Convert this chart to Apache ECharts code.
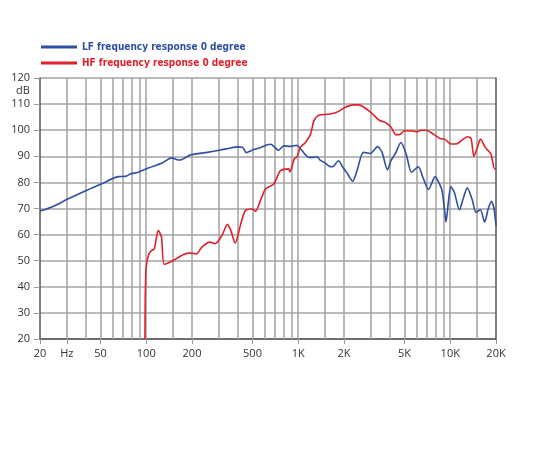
<!DOCTYPE html>
<html><head><meta charset="utf-8">
<script src="https://cdn.jsdelivr.net/npm/echarts@6/dist/echarts.min.js"></script>
<style>html,body{margin:0;padding:0;background:#fff}#c{width:550px;height:450px}</style>
</head><body><div id="c"></div>
<script>
const lfFreq = [20,24.4,30.7,40.3,50.6,65.4,73.3,78.4,88.6,103,126,147,158,167,195,251,307,358,405,430,455,485,508,566,626,658,700,740,803,889,982,1033,1100,1166,1250,1330,1400,1500,1600,1680,1840,1955,2100,2280,2450,2680,2980,3330,3560,3860,4070,4350,4740,5150,5560,6170,6600,7200,7960,8400,8830,9150,9380,9700,10100,10630,11500,12200,12950,14000,14740,15800,16820,17800,18650,19400,20000];
const lfDb = [69,70.8,73.7,76.9,79.4,82.2,82.3,83.2,83.9,85.5,87.3,89.4,88.8,88.6,90.5,91.5,92.4,93.2,93.6,93.5,91.4,92,92.6,93.4,94.4,94.6,93.5,92.3,94,93.8,94.2,93,91,89.6,89.6,89.8,88.4,87.5,86.2,86,88.3,86,83.5,80.4,85,91.5,91.1,93.7,91.5,84.8,88.3,91,95.3,90.5,83.9,86,82,77.3,82.2,80,76.9,70,64.8,72,78.4,76.2,69.5,74,77.9,73.1,68.6,69.5,64.8,70,72.8,70,63.5];
const hfFreq = [98,98.5,99.5,101.5,105,109,113,120,126,131,144,158,176,195,215,232,263,284,315,342,360,385,416,449,498,523,566,609,690,764,866,880,942,985,1033,1116,1205,1268,1370,1560,1730,1870,2020,2290,2500,2690,3060,3390,3760,4070,4390,4620,5000,5560,5980,6450,6980,7750,8580,9280,10100,11100,11950,12950,13700,14300,15200,15800,17000,17800,18500,19600,20000];
const hfDb = [20,35,46,50.2,53,54,54.5,61.6,59,48.6,49.5,50.8,52.4,52.9,52.6,55.2,57.1,56.5,59.7,63.9,61.6,56.8,63.5,69.2,69.8,69,73.3,77.5,79.4,84.5,85.2,84,89,90,93.4,95.3,98.5,103.6,105.8,106.1,106.6,107.4,108.7,109.7,109.7,108.9,106.4,103.9,102.9,101.2,98.3,98.3,99.8,99.7,99.4,100,100,98.5,96.8,96.4,94.7,94.8,96.2,97.5,96.8,90,94,96.6,93.4,92.1,91,85.2,85.2];
const gridFreqs = [30,40,50,60,70,80,90,100,150,200,300,400,500,600,700,800,900,1000,1500,2000,3000,4000,5000,6000,7000,8000,9000,10000,15000];
const tickFreqs = [20,30,50,100,200,500,1000,2000,5000,10000,20000];
const tickLabels = ['20','Hz','50','100','200','500','1K','2K','5K','10K','20K'];
const seriesNames = ['LF frequency response 0 degree','HF frequency response 0 degree'];
const seriesColors = ['#2f4fa0', '#e0202a'];

const L = Math.log10;
const toPts = (f, d) => f.map((v, i) => [L(v), d[i]]);
const fmtX = v => { for (let i = 0; i < tickFreqs.length; i++) if (Math.abs(L(tickFreqs[i]) - v) < 1e-6) return tickLabels[i]; return ''; };
const FONT = "'Open Sans', 'DejaVu Sans', sans-serif";
const legendFont = {fontFamily: "'DejaVu Sans Condensed', 'Roboto', sans-serif", fontWeight: 'bold', fontSize: 10};
const mkLegend = (i, top) => ({
  orient: 'vertical', left: 41, top: top, itemWidth: 36, itemHeight: 3, icon: 'rect', padding: 0,
  data: [{name: seriesNames[i], textStyle: Object.assign({color: seriesColors[i]}, legendFont)}]
});
const chart = echarts.init(document.getElementById('c'), null, {renderer: 'canvas'});
chart.setOption({
  animation: false,
  grid: {left: 40, right: 54, top: 78, bottom: 111},
  legend: [mkLegend(0, 42), mkLegend(1, 58)],
  xAxis: [
    {type: 'value', min: L(20), max: L(20000), position: 'bottom',
     axisLine: {show: true, lineStyle: {color: '#555', width: 1.5}},
     axisTick: {show: true, customValues: tickFreqs.map(L), length: 5, lineStyle: {color: '#999', width: 1}},
     axisLabel: {customValues: tickFreqs.map(L), formatter: fmtX, color: '#333', fontSize: 11, fontFamily: FONT, margin: 9},
     splitLine: {show: false}},
    {type: 'value', min: L(20), max: L(20000), position: 'bottom', gridIndex: 0,
     axisLine: {show: false},
     axisTick: {show: true, inside: true, customValues: gridFreqs.map(L), length: 261, lineStyle: {color: '#a3a3a3', width: 1.5}},
     axisLabel: {show: false}, splitLine: {show: false}}
  ],
  yAxis: [
    {type: 'value', min: 20, max: 120, interval: 10, position: 'left',
     axisLine: {show: true, lineStyle: {color: '#555', width: 1.5}},
     axisTick: {show: true, length: 6, lineStyle: {color: '#999'}},
     axisLabel: {color: '#333', fontSize: 11, fontFamily: FONT, margin: 10},
     splitLine: {show: true, lineStyle: {color: '#a3a3a3', width: 1.5}}},
    {type: 'value', min: 20, max: 120, position: 'right',
     axisLine: {show: true, lineStyle: {color: '#555', width: 1.5}},
     axisTick: {show: false}, axisLabel: {show: false}, splitLine: {show: false}}
  ],
  graphic: [{type: 'text', left: 16, top: 85, style: {text: 'dB', fill: '#333', font: "11px 'Open Sans', sans-serif"}}],
  series: [
    {name: seriesNames[0], type: 'line', data: toPts(lfFreq, lfDb), showSymbol: false, smooth: 0.25,
     itemStyle: {color: seriesColors[0]}, lineStyle: {color: seriesColors[0], width: 1.6}, z: 3},
    {name: seriesNames[1], type: 'line', data: toPts(hfFreq, hfDb), showSymbol: false, smooth: 0.25,
     itemStyle: {color: seriesColors[1]}, lineStyle: {color: seriesColors[1], width: 1.6}, z: 4}
  ]
});
</script></body></html>
